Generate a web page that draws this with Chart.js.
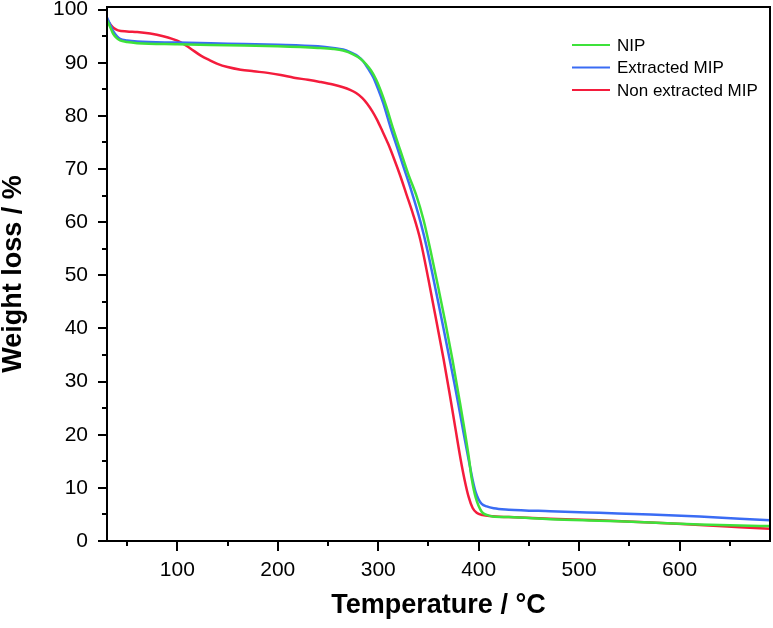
<!DOCTYPE html>
<html>
<head>
<meta charset="utf-8">
<script src="https://cdn.jsdelivr.net/npm/chart.js@4.4.1/dist/chart.umd.min.js"></script>
<style>
    html, body { margin: 0; padding: 0; background: #fff; }
    #wrap { width: 773px; height: 628px; }
</style>
</head>
<body>
<div id="wrap"><canvas id="tgaChart" width="773" height="628"></canvas></div>
<script>
// TGA curves: [temperature °C, weight %]
const nipData = [
    [30, 98.0], [33, 96.8], [36, 95.5], [40, 94.6], [43, 94.2], [50, 93.9], [60, 93.7],
    [100, 93.5], [150, 93.3], [200, 93.1], [240, 92.8], [255, 92.6], [265, 92.3],
    [275, 91.6], [282, 90.8], [288, 89.7], [293, 88.5], [298, 86.8], [303, 84.5],
    [308, 81.8], [315, 77.5], [322, 73.5], [330, 69.0], [338, 65.0], [345, 60.5],
    [352, 54.7], [360, 47.5], [367, 41.0], [374, 34.0], [380, 27.5], [385, 22.0],
    [390, 16.0], [393, 11.8], [397, 8.2], [403, 5.5], [408, 4.9], [414, 4.6],
    [430, 4.5], [471, 4.1], [520, 3.8], [571, 3.5], [620, 3.1], [660, 2.9], [690, 2.8]
];
const extractedData = [
    [30, 98.5], [33, 97.3], [36, 96.0], [40, 95.0], [43, 94.5], [50, 94.2], [60, 94.0],
    [100, 93.8], [150, 93.6], [200, 93.4], [240, 93.1], [255, 92.8], [265, 92.5],
    [272, 92.0], [280, 91.2], [285, 90.3], [290, 88.9], [295, 87.3], [300, 85.0],
    [305, 82.4], [312, 78.0], [319, 74.0], [325, 70.5], [332, 66.5], [342, 60.1],
    [349, 54.7], [355, 49.3], [360, 44.7], [365, 40.0], [371, 34.3], [376, 29.5],
    [380, 25.5], [385, 20.3], [390, 15.3], [394, 11.5], [397, 9.2], [400, 7.8],
    [403, 7.0], [408, 6.5], [415, 6.15], [430, 5.9], [471, 5.6], [520, 5.3],
    [571, 5.0], [620, 4.6], [660, 4.2], [690, 3.9]
];
const nonExtractedData = [
    [30, 98.2], [33, 97.3], [37, 96.5], [41, 96.1], [50, 95.9], [60, 95.8], [73, 95.5],
    [86, 95.0], [95, 94.5], [103, 93.9], [113, 92.7], [123, 91.4], [132, 90.5],
    [140, 89.8], [150, 89.2], [163, 88.7], [176, 88.4], [190, 88.1], [203, 87.7],
    [216, 87.2], [230, 86.8], [242, 86.4], [255, 85.9], [265, 85.4], [272, 84.9],
    [278, 84.3], [284, 83.4], [289, 82.3], [294, 80.9], [299, 79.2], [304, 77.2],
    [310, 74.7], [316, 71.8], [322, 68.7], [328, 65.3], [335, 61.3], [342, 56.6],
    [350, 49.2], [358, 41.3], [365, 34.3], [371, 27.8], [377, 21.0], [382, 15.4],
    [386, 11.5], [390, 8.3], [394, 6.2], [398, 5.3], [404, 4.9], [411, 4.7],
    [430, 4.5], [471, 4.2], [520, 3.9], [571, 3.5], [620, 3.0], [660, 2.6], [690, 2.3]
];

const seriesNames = ["NIP", "Extracted MIP", "Non extracted MIP"];
const seriesColors = ["#3ee23a", "#3a6cf4", "#f41c3c"];

const xMajorTicks = [100, 200, 300, 400, 500, 600];
const xMinorTicks = [50, 150, 250, 350, 450, 550, 650];
const yMajorTicks = [0, 10, 20, 30, 40, 50, 60, 70, 80, 90, 100];
const yMinorTicks = [5, 15, 25, 35, 45, 55, 65, 75, 85, 95];

const toPoints = arr => arr.map(p => ({ x: p[0], y: p[1] }));

// frame, outward ticks and legend
const framePlugin = {
    id: "frame",
    afterDraw(chart) {
        const ctx = chart.ctx;
        const area = chart.chartArea;
        const xs = chart.scales.x;
        const ys = chart.scales.y;
        ctx.save();
        ctx.strokeStyle = "#000";
        ctx.lineWidth = 2;
        ctx.strokeRect(area.left, area.top, area.right - area.left, area.bottom - area.top);
        ctx.beginPath();
        xMajorTicks.forEach(v => {
            const px = Math.round(xs.getPixelForValue(v));
            ctx.moveTo(px, area.bottom); ctx.lineTo(px, area.bottom + 10);
        });
        xMinorTicks.forEach(v => {
            const px = Math.round(xs.getPixelForValue(v));
            ctx.moveTo(px, area.bottom); ctx.lineTo(px, area.bottom + 5);
        });
        yMajorTicks.forEach(v => {
            const py = Math.round(ys.getPixelForValue(v));
            ctx.moveTo(area.left, py); ctx.lineTo(area.left - 9, py);
        });
        yMinorTicks.forEach(v => {
            const py = Math.round(ys.getPixelForValue(v));
            ctx.moveTo(area.left, py); ctx.lineTo(area.left - 5, py);
        });
        ctx.stroke();

        // legend
        ctx.font = "17px 'Liberation Sans', Arial, sans-serif";
        ctx.textBaseline = "middle";
        ctx.fillStyle = "#000";
        chart.data.datasets.forEach((ds, i) => {
            const y = 45 + i * 22.5;
            ctx.strokeStyle = ds.borderColor;
            ctx.lineWidth = 2;
            ctx.beginPath();
            ctx.moveTo(572, y); ctx.lineTo(610, y);
            ctx.stroke();
            ctx.fillText(ds.label, 617, y + 1);
        });
        ctx.restore();
    }
};

new Chart(document.getElementById("tgaChart"), {
    type: "line",
    data: {
        datasets: [nipData, extractedData, nonExtractedData].map((d, i) => ({
            label: seriesNames[i],
            data: toPoints(d),
            borderColor: seriesColors[i],
            borderWidth: 2.5,
            pointRadius: 0,
            fill: false,
            cubicInterpolationMode: "monotone"
        }))
    },
    options: {
        responsive: false,
        animation: false,
        layout: { padding: { left: 0, top: 7, right: 3, bottom: 0 } },
        plugins: { legend: { display: false }, tooltip: { enabled: false } },
        scales: {
            x: {
                type: "linear",
                min: 30,
                max: 690,
                afterBuildTicks: s => { s.ticks = xMajorTicks.map(v => ({ value: v })); },
                afterFit: s => { s.height = 87; s.paddingLeft = 0; s.paddingRight = 0; },
                grid: { display: false, drawTicks: false },
                border: { display: false },
                ticks: { color: "#000", padding: 17, maxRotation: 0, font: { family: "'Liberation Sans', Arial", size: 21 } },
                title: {
                    display: true,
                    text: "Temperature / °C",
                    color: "#000",
                    padding: { top: 0, bottom: 6 },
                    font: { family: "'Liberation Sans', Arial", size: 27, weight: "bold", lineHeight: 1.2 }
                }
            },
            y: {
                min: 0,
                max: 100.5,
                afterBuildTicks: s => { s.ticks = yMajorTicks.map(v => ({ value: v })); },
                afterFit: s => { s.width = 107; s.paddingTop = 0; s.paddingBottom = 0; },
                grid: { display: false, drawTicks: false },
                border: { display: false },
                ticks: { color: "#000", padding: 19, font: { family: "'Liberation Sans', Arial", size: 21 } },
                title: {
                    display: true,
                    text: "Weight loss / %",
                    color: "#000",
                    padding: { top: 0, bottom: 0 },
                    font: { family: "'Liberation Sans', Arial", size: 27, weight: "bold", lineHeight: 1 }
                }
            }
        }
    },
    plugins: [framePlugin]
});
</script>
</body>
</html>
